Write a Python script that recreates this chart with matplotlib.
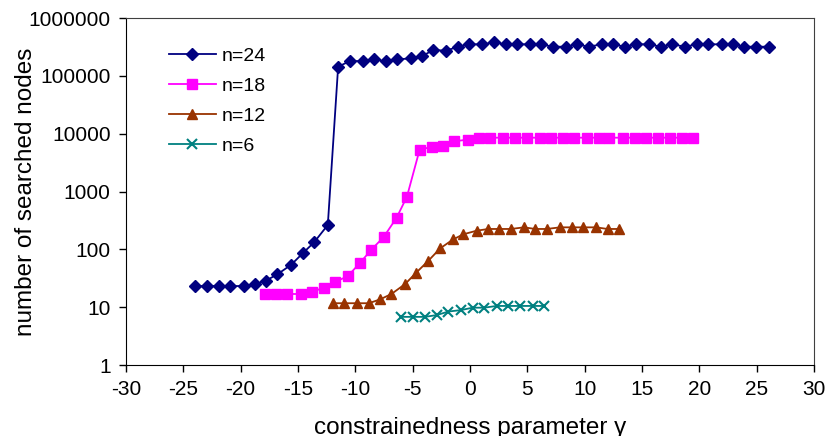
import matplotlib
matplotlib.use("Agg")
import matplotlib.pyplot as plt
from matplotlib.ticker import FixedLocator, FuncFormatter

plt.rcParams["font.family"] = ["Liberation Sans", "DejaVu Sans"]
plt.rcParams["axes.unicode_minus"] = False

# n=24
x24 = [-24.0, -22.9, -21.9, -20.9, -19.7, -18.75, -17.8, -16.8, -15.6, -14.6, -13.6, -12.4,
       -11.5, -10.47, -9.3, -8.35, -7.33, -6.34, -5.15, -4.16, -3.2, -2.07, -1.07, -0.06,
       1.07, 2.12, 3.1, 4.07, 5.23, 6.2, 7.24, 8.35, 9.36, 10.35, 11.48, 12.5, 13.5, 14.5,
       15.63, 16.65, 17.64, 18.75, 19.77, 20.78, 21.95, 22.9, 23.92, 24.94, 26.07]
y24 = [23.2, 23.2, 23.2, 23.2, 23.2, 25, 28.7, 37, 54, 85, 132, 264,
       144000, 180000, 180000, 193000, 178000, 193000, 200000, 220000, 280000, 272000, 319000, 351000,
       351000, 380000, 351000, 351000, 351000, 351000, 319000, 319000, 351000, 319000, 351000, 351000,
       319000, 351000, 351000, 319000, 351000, 319000, 351000, 351000, 351000, 351000, 319000, 319000, 319000]

# n=18
x18 = [-17.88, -16.92, -15.93, -14.77, -13.78, -12.76, -11.77, -10.67, -9.6, -8.63, -7.53, -6.4, -5.5,
       -4.4, -3.34, -2.38, -1.42, -0.2, 0.78, 1.74, 2.9, 3.92, 4.94, 6.08, 7.07, 8.08, 9.04, 10.2,
       11.25, 12.15, 13.32, 14.36, 15.32, 16.42, 17.44, 18.46, 19.42]
y18 = [16.9, 16.9, 16.9, 16.9, 18.3, 21.7, 27.3, 34.2, 58, 97.4, 163, 352, 813,
       5220, 5960, 6200, 7380, 7870, 8520, 8520, 8520, 8520, 8520, 8520, 8520, 8520, 8520, 8520,
       8520, 8520, 8520, 8520, 8520, 8520, 8520, 8520, 8520]

# n=12
x12 = [-11.97, -10.96, -9.83, -8.81, -7.82, -6.85, -5.65, -4.69, -3.65, -2.6, -1.48, -0.58,
       0.58, 1.6, 2.55, 3.57, 4.71, 5.69, 6.69, 7.85, 8.87, 9.85, 10.99, 12.0, 12.97]
y12 = [11.7, 11.7, 11.7, 11.7, 13.7, 16.9, 25.2, 39.5, 62.9, 104, 148, 182,
       210, 225, 225, 225, 240, 225, 225, 240, 240, 240, 240, 225, 225]

# n=6
x6 = [-6.0, -4.95, -3.93, -2.9, -1.89, -0.79, 0.23, 1.25, 2.33, 3.34, 4.36, 5.52, 6.48]
y6 = [6.8, 6.8, 6.8, 7.3, 8.4, 8.9, 9.8, 9.8, 10.5, 10.5, 10.5, 10.5, 10.5]

fig = plt.figure(figsize=(8.29, 4.36), dpi=100)
ax = fig.add_axes([126 / 829, 71 / 436, 688 / 829, 347 / 436])

ax.plot(x24, y24, color="#000080", marker="D", markersize=6, lw=1.3, label="n=24")
ax.plot(x18, y18, color="#FF00FF", marker="s", markersize=6.5, lw=1.3, label="n=18")
ax.plot(x12, y12, color="#993300", marker="^", markersize=7.5, lw=1.3, label="n=12")
ax.plot(x6, y6, color="#008080", marker="x", markersize=6.5, mew=1.5, lw=1.3, label="n=6")

ax.set_yscale("log")
ax.set_xlim(-30, 30)
ax.set_ylim(1, 1000000)
ax.set_xticks(range(-30, 31, 5))
ax.yaxis.set_major_locator(FixedLocator([10 ** k for k in range(7)]))
ax.yaxis.set_minor_locator(FixedLocator([]))
ax.yaxis.set_major_formatter(FuncFormatter(lambda v, p: f"{int(round(v))}"))
ax.tick_params(labelsize=15, direction="out", length=5, width=1, pad=6)

for s in ["top", "right"]:
    ax.spines[s].set_color("#404040")

ax.set_xlabel("constrainedness parameter γ", fontsize=17.5)
ax.set_ylabel("number of searched nodes", fontsize=17.5)
ax.xaxis.set_label_coords(0.5, -0.15)
ax.yaxis.set_label_coords(-0.13, 0.5)

ax.legend(loc="upper left", bbox_to_anchor=(0.0625, 0.915), frameon=False, fontsize=14,
          handlelength=2.4, handletextpad=0.3, labelspacing=0.63, borderaxespad=0, borderpad=0)

fig.savefig("out.png", dpi=100)
